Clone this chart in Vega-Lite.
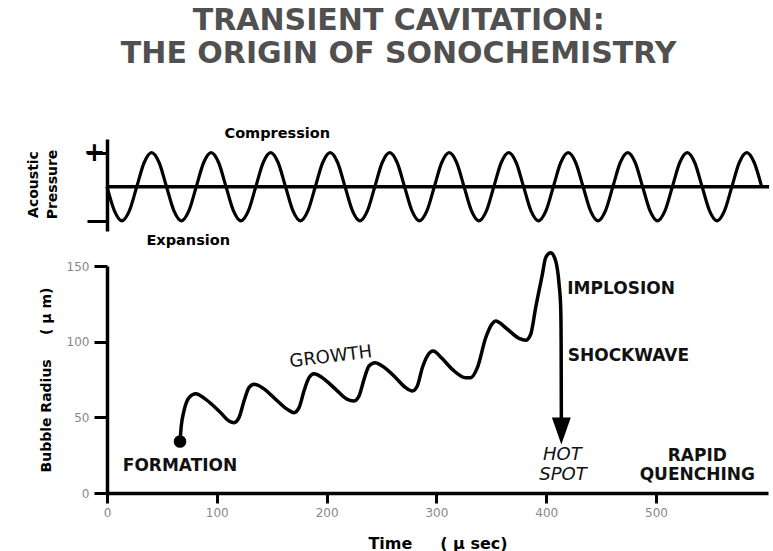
{
  "$schema": "https://vega.github.io/schema/vega-lite/v6.json",
  "background": "white",
  "padding": {"left": 26, "top": 6, "right": 4, "bottom": 2},
  "title": {
    "text": ["TRANSIENT CAVITATION:", "THE ORIGIN OF SONOCHEMISTRY"],
    "font": "DejaVu Sans",
    "fontSize": 30,
    "fontWeight": "bold",
    "color": "#505050",
    "lineHeight": 33,
    "anchor": "middle",
    "offset": 57
  },
  "bounds": "flush",
  "spacing": 35,
  "config": {
    "font": "DejaVu Sans",
    "view": {"stroke": null},
    "axis": {
      "grid": false,
      "domainColor": "black",
      "tickColor": "black",
      "labelColor": "#888888",
      "labelFont": "DejaVu Sans",
      "titleFont": "DejaVu Sans",
      "titleColor": "black",
      "titleFontWeight": "bold"
    }
  },
  "datasets": {
    "baseline": [{"t": 0, "t2": 603, "p": 0}],
    "wave": [
      {"t": 0, "p": 0}, {"t": 6.78, "p": -0.71}, {"t": 13.55, "p": -1}, {"t": 20.33, "p": -0.71},
      {"t": 27.1, "p": 0}, {"t": 33.88, "p": 0.71}, {"t": 40.65, "p": 1}, {"t": 47.43, "p": 0.71},
      {"t": 54.2, "p": 0}, {"t": 60.98, "p": -0.71}, {"t": 67.75, "p": -1}, {"t": 74.53, "p": -0.71},
      {"t": 81.3, "p": 0}, {"t": 88.08, "p": 0.71}, {"t": 94.85, "p": 1}, {"t": 101.63, "p": 0.71},
      {"t": 108.4, "p": 0}, {"t": 115.18, "p": -0.71}, {"t": 121.95, "p": -1}, {"t": 128.73, "p": -0.71},
      {"t": 135.5, "p": 0}, {"t": 142.28, "p": 0.71}, {"t": 149.05, "p": 1}, {"t": 155.83, "p": 0.71},
      {"t": 162.6, "p": 0}, {"t": 169.38, "p": -0.71}, {"t": 176.15, "p": -1}, {"t": 182.93, "p": -0.71},
      {"t": 189.7, "p": 0}, {"t": 196.48, "p": 0.71}, {"t": 203.25, "p": 1}, {"t": 210.03, "p": 0.71},
      {"t": 216.8, "p": 0}, {"t": 223.58, "p": -0.71}, {"t": 230.35, "p": -1}, {"t": 237.13, "p": -0.71},
      {"t": 243.9, "p": 0}, {"t": 250.68, "p": 0.71}, {"t": 257.45, "p": 1}, {"t": 264.23, "p": 0.71},
      {"t": 271, "p": 0}, {"t": 277.78, "p": -0.71}, {"t": 284.55, "p": -1}, {"t": 291.33, "p": -0.71},
      {"t": 298.1, "p": 0}, {"t": 304.88, "p": 0.71}, {"t": 311.65, "p": 1}, {"t": 318.43, "p": 0.71},
      {"t": 325.2, "p": 0}, {"t": 331.98, "p": -0.71}, {"t": 338.75, "p": -1}, {"t": 345.53, "p": -0.71},
      {"t": 352.3, "p": 0}, {"t": 359.08, "p": 0.71}, {"t": 365.85, "p": 1}, {"t": 372.63, "p": 0.71},
      {"t": 379.4, "p": 0}, {"t": 386.18, "p": -0.71}, {"t": 392.95, "p": -1}, {"t": 399.73, "p": -0.71},
      {"t": 406.5, "p": 0}, {"t": 413.28, "p": 0.71}, {"t": 420.05, "p": 1}, {"t": 426.83, "p": 0.71},
      {"t": 433.6, "p": 0}, {"t": 440.38, "p": -0.71}, {"t": 447.15, "p": -1}, {"t": 453.93, "p": -0.71},
      {"t": 460.7, "p": 0}, {"t": 467.48, "p": 0.71}, {"t": 474.25, "p": 1}, {"t": 481.03, "p": 0.71},
      {"t": 487.8, "p": 0}, {"t": 494.58, "p": -0.71}, {"t": 501.35, "p": -1}, {"t": 508.13, "p": -0.71},
      {"t": 514.9, "p": 0}, {"t": 521.68, "p": 0.71}, {"t": 528.45, "p": 1}, {"t": 535.23, "p": 0.71},
      {"t": 542, "p": 0}, {"t": 548.78, "p": -0.71}, {"t": 555.55, "p": -1}, {"t": 562.33, "p": -0.71},
      {"t": 569.1, "p": 0}, {"t": 575.88, "p": 0.71}, {"t": 582.65, "p": 1}, {"t": 589.43, "p": 0.71},
      {"t": 596.2, "p": 0}
    ],
    "pressureLabels": [
      {"t": 155.1, "p": 1.54, "label": "Compression"},
      {"t": 74, "p": -1.59, "label": "Expansion"}
    ],
    "radius": [
      {"t": 66.5, "r": 34}, {"t": 67.6, "r": 44}, {"t": 70.1, "r": 54.2}, {"t": 74.7, "r": 63},
      {"t": 80.8, "r": 65.6}, {"t": 89.9, "r": 61.9}, {"t": 102, "r": 54.2}, {"t": 111.1, "r": 47.6},
      {"t": 115.7, "r": 46.5}, {"t": 120.2, "r": 49.8}, {"t": 124.8, "r": 60.8}, {"t": 129.3, "r": 69.6},
      {"t": 133.9, "r": 71.8}, {"t": 141.5, "r": 69.6}, {"t": 153.6, "r": 61.9}, {"t": 164.2, "r": 55.3},
      {"t": 170.3, "r": 53.1}, {"t": 174.9, "r": 56.4}, {"t": 179.4, "r": 67.4}, {"t": 184, "r": 76.2},
      {"t": 188.5, "r": 78.8}, {"t": 196.1, "r": 76.2}, {"t": 208.3, "r": 68.5}, {"t": 218.9, "r": 61.9},
      {"t": 225, "r": 60.8}, {"t": 229.5, "r": 64.1}, {"t": 234.1, "r": 75.1}, {"t": 238.6, "r": 83.9},
      {"t": 244.1, "r": 86.1}, {"t": 250.7, "r": 83.9}, {"t": 262.9, "r": 76.2}, {"t": 272, "r": 69.6},
      {"t": 278.1, "r": 67.4}, {"t": 282.6, "r": 70.7}, {"t": 287.2, "r": 82.8}, {"t": 291.7, "r": 90.5},
      {"t": 297, "r": 93.8}, {"t": 305, "r": 89}, {"t": 314.5, "r": 81.7}, {"t": 326.7, "r": 76.2},
      {"t": 331.2, "r": 76.2}, {"t": 337.3, "r": 82.8}, {"t": 344.9, "r": 102.6}, {"t": 350.9, "r": 111.9},
      {"t": 354, "r": 113.7}, {"t": 363.1, "r": 109.2}, {"t": 375.2, "r": 102.2}, {"t": 381.3, "r": 100.9},
      {"t": 385.9, "r": 104.9}, {"t": 390.4, "r": 122.5}, {"t": 396.5, "r": 144.5}, {"t": 399.5, "r": 155.5},
      {"t": 404.1, "r": 158.8}, {"t": 408.5, "r": 153.6}, {"t": 411.7, "r": 138.2}, {"t": 413.2, "r": 122.7},
      {"t": 413.6, "r": 100}, {"t": 413.8, "r": 47}
    ],
    "formation": [{"t": 66.5, "r": 34}],
    "arrow": [{"t": 413.8, "r": 41}],
    "boldLabels": [
      {"t": 66.5, "r": 17.9, "label": "FORMATION"},
      {"t": 537.6, "r": 24.5, "label": "RAPID"},
      {"t": 537.6, "r": 11.9, "label": "QUENCHING"}
    ],
    "leftLabels": [
      {"t": 419.2, "r": 134.9, "label": "IMPLOSION"},
      {"t": 419.6, "r": 90.7, "label": "SHOCKWAVE"}
    ],
    "italicLabels": [
      {"t": 414.7, "r": 25.2, "label": "HOT"},
      {"t": 415.3, "r": 11.9, "label": "SPOT"}
    ],
    "growth": [{"t": 203.9, "r": 89.7, "label": "GROWTH"}]
  },
  "vconcat": [
    {
      "width": 661,
      "height": 92,
      "layer": [
        {
          "data": {"name": "baseline"},
          "mark": {"type": "rule", "strokeWidth": 3.5, "color": "black"},
          "encoding": {
            "x": {"field": "t", "type": "quantitative", "scale": {"domain": [0, 602], "nice": false}, "axis": null},
            "x2": {"field": "t2"},
            "y": {
              "field": "p",
              "type": "quantitative",
              "scale": {"domain": [-1.3, 1.4], "nice": false, "zero": false},
              "axis": {
                "title": ["Acoustic", "Pressure"],
                "values": [-1, 1],
                "tickSize": 20,
                "tickWidth": 3,
                "domainWidth": 3.5,
                "labelExpr": "datum.value > 0 ? '+' : ''",
                "labelFontSize": 26,
                "labelFontWeight": "bold",
                "labelColor": "black",
                "labelAlign": "center",
                "labelBaseline": "middle",
                "labelPadding": -7,
                "titleFontSize": 14,
                "titleAngle": -90,
                "titleAlign": "center",
                "titleBaseline": "alphabetic",
                "titleLineHeight": 19,
                "titleX": -69.5,
                "titleY": 45
              }
            }
          }
        },
        {
          "data": {"name": "wave"},
          "mark": {"type": "line", "interpolate": "monotone", "strokeWidth": 3.2, "color": "black"},
          "encoding": {
            "x": {"field": "t", "type": "quantitative"},
            "y": {"field": "p", "type": "quantitative"}
          }
        },
        {
          "data": {"name": "pressureLabels"},
          "mark": {"type": "text", "fontWeight": "bold", "fontSize": 14.5, "align": "center", "baseline": "middle", "color": "black"},
          "encoding": {
            "x": {"field": "t", "type": "quantitative"},
            "y": {"field": "p", "type": "quantitative"},
            "text": {"field": "label"}
          }
        }
      ]
    },
    {
      "width": 661,
      "height": 227,
      "layer": [
        {
          "data": {"name": "radius"},
          "mark": {"type": "line", "interpolate": "monotone", "strokeWidth": 3.5, "color": "black", "strokeCap": "round", "strokeJoin": "round"},
          "encoding": {
            "x": {
              "field": "t",
              "type": "quantitative",
              "scale": {"domain": [0, 602], "nice": false},
              "axis": {
                "values": [0, 100, 200, 300, 400, 500],
                "title": "Time\u00a0\u00a0\u00a0\u00a0\u00a0(\u00a0µ sec)",
                "tickSize": 10,
                "tickWidth": 3,
                "domainWidth": 3.5,
                "labelFontSize": 12,
                "labelPadding": 4,
                "labelFlush": false,
                "titleFontSize": 16,
                "titleBaseline": "alphabetic",
                "titleY": 55
              }
            },
            "y": {
              "field": "r",
              "type": "quantitative",
              "scale": {"domain": [0, 150], "nice": false},
              "axis": {
                "values": [0, 50, 100, 150],
                "title": "Bubble Radius\u00a0\u00a0\u00a0\u00a0\u00a0(\u00a0µ m)",
                "tickSize": 13,
                "tickWidth": 3,
                "domainWidth": 3.5,
                "labelFontSize": 12,
                "labelPadding": 5,
                "titleFontSize": 14,
                "titleAngle": -90,
                "titleAlign": "center",
                "titleBaseline": "alphabetic",
                "titleX": -57,
                "titleY": 113.5
              }
            }
          }
        },
        {
          "data": {"name": "formation"},
          "mark": {"type": "point", "filled": true, "shape": "circle", "size": 160, "color": "black", "opacity": 1},
          "encoding": {
            "x": {"field": "t", "type": "quantitative"},
            "y": {"field": "r", "type": "quantitative"}
          }
        },
        {
          "data": {"name": "arrow"},
          "mark": {"type": "point", "filled": true, "shape": "M-0.7,-1L0.7,-1L0,1Z", "size": 729, "color": "black", "opacity": 1},
          "encoding": {
            "x": {"field": "t", "type": "quantitative"},
            "y": {"field": "r", "type": "quantitative"}
          }
        },
        {
          "data": {"name": "boldLabels"},
          "mark": {"type": "text", "fontWeight": "bold", "fontSize": 17, "align": "center", "baseline": "middle", "color": "#111111"},
          "encoding": {
            "x": {"field": "t", "type": "quantitative"},
            "y": {"field": "r", "type": "quantitative"},
            "text": {"field": "label"}
          }
        },
        {
          "data": {"name": "leftLabels"},
          "mark": {"type": "text", "fontWeight": "bold", "fontSize": 17, "align": "left", "baseline": "middle", "color": "#111111"},
          "encoding": {
            "x": {"field": "t", "type": "quantitative"},
            "y": {"field": "r", "type": "quantitative"},
            "text": {"field": "label"}
          }
        },
        {
          "data": {"name": "italicLabels"},
          "mark": {"type": "text", "fontStyle": "italic", "fontSize": 18, "align": "center", "baseline": "middle", "color": "#111111"},
          "encoding": {
            "x": {"field": "t", "type": "quantitative"},
            "y": {"field": "r", "type": "quantitative"},
            "text": {"field": "label"}
          }
        },
        {
          "data": {"name": "growth"},
          "mark": {"type": "text", "fontSize": 18, "angle": -7, "align": "center", "baseline": "middle", "color": "#111111"},
          "encoding": {
            "x": {"field": "t", "type": "quantitative"},
            "y": {"field": "r", "type": "quantitative"},
            "text": {"field": "label"}
          }
        }
      ]
    }
  ]
}
